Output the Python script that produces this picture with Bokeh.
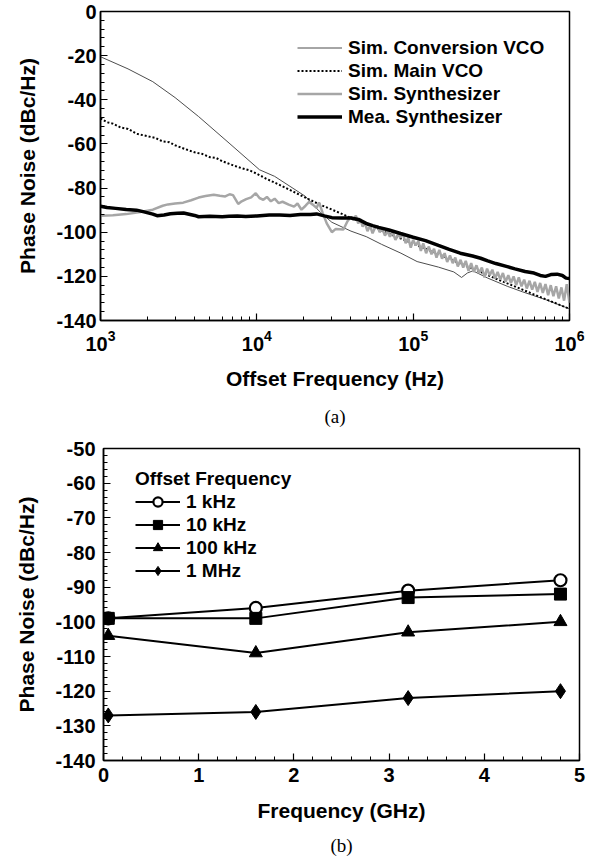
from bokeh.plotting import figure
from bokeh.models import FixedTicker, Title, Legend, LegendItem
from bokeh.embed import file_html
from bokeh.resources import INLINE

# ---------------- (a) data ----------------
conv_f = [1000, 1500, 2160, 3000, 4240, 6640, 10400, 13000, 20400, 25500, 30200, 40000,
          50100, 62800, 83500, 106000, 145000, 182000, 204000, 222000, 241000, 300000,
          400000, 500000, 700000, 1000000]
conv_db = [-20.5, -26.0, -31.8, -39.0, -47.6, -59.6, -71.7, -74.7, -83.7, -91.0, -95.5, -99.5,
           -102.0, -105.5, -109.5, -113.3, -115.8, -118.0, -120.5, -118.5, -117.5, -120.8,
           -124.5, -127.0, -130.5, -134.7]

main_f = [1000, 1100, 1200, 1350, 1500, 1700, 2000, 2250, 2500, 2750, 3000, 3500, 4000, 4500,
          5000, 5500, 6000, 7000, 8000, 9000, 10000, 11500, 13000, 16000, 20000, 25000, 32000,
          40000, 50000, 63000, 80000, 100000, 130000, 160000, 200000, 250000, 320000, 400000,
          500000, 630000, 800000, 1000000]
main_db = [-48.4, -50.2, -50.8, -52.6, -53.2, -55.4, -56.5, -57.3, -58.9, -59.2, -60.6, -62.4,
           -63.8, -64.6, -66.0, -66.4, -67.8, -69.6, -71.0, -72.0, -73.5, -75.8, -77.5, -80.6,
           -84.0, -87.3, -90.5, -93.5, -96.3, -99.3, -102.3, -105.2, -108.5, -111.2, -114.2,
           -117.0, -120.3, -123.2, -126.0, -129.0, -131.9, -134.7]

synth_f = [1000, 1200, 1460, 1800, 2160, 2500, 2700, 3000, 3380, 3800, 4240, 4700, 5300, 5800,
           6280, 6700, 7040, 7600, 8000, 8550, 9200, 9840, 10400, 11000, 11600, 12300, 13000,
           13800, 14600, 16000, 17300, 18200, 19300, 20500, 21600, 22800, 24100, 25000, 26300,
           28000, 30200, 32000, 35800, 38000,
           40000, 41500, 43000, 44500, 46000, 47500, 49000, 51000, 53000, 55000, 57000, 59000,
           61000, 63500, 66000, 68500, 71000, 74000, 77000, 80000, 83000, 86000, 89500, 93000,
           96500, 100000, 104000, 108000, 112000, 116000, 121000, 126000, 131000, 136000,
           141000, 147000, 153000, 159000, 165000, 172000, 179000, 186000, 193000, 201000,
           209000, 217000, 226000, 235000, 244000, 254000, 264000, 275000, 286000, 297000,
           309000, 321000, 334000, 347000, 361000, 375000, 390000, 406000, 422000, 439000,
           456000, 474000, 493000, 513000, 533000, 555000, 577000, 600000, 624000, 649000,
           675000, 702000, 730000, 759000, 789000, 821000, 854000, 888000, 923000, 960000,
           1000000]
synth_db = [-92.5, -92.3, -91.8, -90.8, -89.8, -88.0, -87.4, -87.0, -86.6, -85.5, -84.3, -83.6,
            -83.0, -83.5, -83.8, -82.8, -83.2, -87.2, -86.0, -85.0, -84.2, -82.3, -84.5, -85.3,
            -84.0, -86.0, -84.8, -86.8, -86.2, -87.5, -88.4, -87.0, -89.8, -88.0, -86.3, -87.5,
            -89.0, -86.5, -91.0, -96.0, -100.0, -98.5, -98.8, -95.0,
            -93.0, -94.5, -92.5, -96.0, -94.0, -97.5, -95.5, -99.5, -97.0, -100.5, -98.0, -97.0,
            -100.0, -98.5, -101.5, -99.5, -102.0, -100.0, -103.5, -101.0, -102.5, -100.5, -105.0,
            -102.5, -107.0, -103.5, -106.0, -104.0, -108.5, -105.0, -109.5, -106.5, -110.0,
            -107.5, -111.5, -108.0, -112.0, -109.5, -113.5, -110.5, -114.0, -111.5, -115.5,
            -112.5, -116.0, -113.0, -117.5, -114.0, -118.0, -115.0, -118.5, -116.0, -120.5,
            -116.5, -119.5, -117.0, -121.0, -118.0, -121.5, -118.5, -122.5, -119.5, -123.0,
            -120.0, -124.0, -120.5, -124.5, -121.5, -125.5, -122.0, -126.0, -122.5, -127.0,
            -123.0, -127.5, -123.5, -128.5, -124.0, -129.0, -124.5, -130.0, -125.0, -131.0,
            -123.5, -132.0]

meas_f = [1000, 1100, 1250, 1460, 1700, 1900, 2160, 2300, 2550, 2800, 3100, 3400, 4000, 4240,
          5000, 6000, 6640, 7500, 8500, 10000, 12000, 14000, 16300, 19000, 22000, 24100, 27000,
          30200, 35000, 40000, 44600, 50000, 55000, 60000, 70000, 83000, 100000, 120000,
          145000, 170000, 200000, 240000, 270000, 300000, 338000, 400000, 448000, 520000,
          593000, 650000, 702000, 760000, 833000, 900000, 950000, 1000000]
meas_db = [-88.2, -88.8, -89.2, -89.7, -90.0, -90.8, -91.8, -92.5, -92.2, -91.6, -91.4, -91.3,
           -92.4, -93.0, -92.8, -93.0, -92.8, -92.6, -92.9, -92.6, -92.2, -92.2, -92.4, -92.0,
           -92.0, -91.7, -92.6, -93.4, -93.6, -93.6, -94.2, -96.0, -97.0, -97.8, -99.0, -100.6,
           -102.3, -103.8, -106.0, -107.8, -109.5, -110.8, -111.8, -113.0, -114.2, -115.6,
           -116.6, -117.8, -118.5, -119.6, -120.0, -119.2, -119.0, -119.6, -120.8, -121.0]

a_legend = ["Sim. Conversion VCO", "Sim. Main VCO", "Sim. Synthesizer", "Mea. Synthesizer"]
a_xticks = [1e3, 1e4, 1e5, 1e6]
a_yticks = [-140, -120, -100, -80, -60, -40, -20, 0]

# ---------------- (b) data ----------------
b_freq = [0.05, 1.6, 3.2, 4.8]
b_1k = [-99, -96, -91, -88]
b_10k = [-99, -99, -93, -92]
b_100k = [-104, -109, -103, -100]
b_1M = [-127, -126, -122, -120]
b_labels = ["1 kHz", "10 kHz", "100 kHz", "1 MHz"]
b_yticks = [-140, -130, -120, -110, -100, -90, -80, -70, -60, -50]
b_xticks = [0, 1, 2, 3, 4, 5]

FONT = "Liberation Sans"


def style(p, label_standoff_y, label_standoff_x):
    p.outline_line_color = "black"
    p.outline_line_width = 1.5
    p.xgrid.visible = False
    p.ygrid.visible = False
    for ax in (p.xaxis[0], p.yaxis[0]):
        ax.axis_line_color = "black"
        ax.axis_line_width = 1.5
        ax.major_tick_line_color = "black"
        ax.minor_tick_line_color = "black"
        ax.major_tick_line_width = 1.2
        ax.minor_tick_line_width = 1
        ax.major_tick_in = 7
        ax.major_tick_out = 0
        ax.minor_tick_in = 4
        ax.minor_tick_out = 0
        ax.major_label_text_font = FONT
        ax.major_label_text_font_style = "bold"
        ax.major_label_text_font_size = "20px"
        ax.major_label_text_color = "black"
        ax.axis_label_text_font = FONT
        ax.axis_label_text_font_style = "bold"
        ax.axis_label_text_font_size = "21px"
        ax.axis_label_text_color = "black"
    p.yaxis[0].major_label_standoff = label_standoff_y
    p.xaxis[0].major_label_standoff = label_standoff_x
    p.background_fill_color = "white"
    p.border_fill_color = "white"


def make_legend(items, loc, row_h, title=None):
    kw = dict(items=items, location=loc, orientation="vertical")
    if title:
        kw["title"] = title
    leg = Legend(**kw)
    leg.title_text_font = FONT
    leg.title_text_font_style = "bold"
    leg.title_text_font_size = "19px"
    leg.title_text_color = "black"
    leg.title_standoff = 0
    leg.label_text_font = FONT
    leg.label_text_font_style = "bold"
    leg.label_text_font_size = "19px"
    leg.label_text_color = "black"
    leg.glyph_width = 45
    leg.glyph_height = row_h
    leg.label_height = row_h
    leg.label_standoff = 6
    leg.spacing = 0
    leg.padding = 0
    leg.margin = 0
    leg.border_line_color = None
    leg.background_fill_alpha = 0
    return leg


# ---------------- figure (a) ----------------
p1 = figure(width=590, height=438, x_axis_type="log", x_range=(1e3, 1e6), y_range=(-140, 0),
            output_backend="svg", toolbar_location=None, title=None,
            min_border_left=100, min_border_right=21, min_border_top=11, min_border_bottom=116)
style(p1, 4, 9)
p1.xaxis.ticker = FixedTicker(ticks=a_xticks,
                              minor_ticks=[m * 10 ** k for k in range(3, 6) for m in range(2, 10)])
p1.yaxis.ticker = FixedTicker(ticks=a_yticks, minor_ticks=list(range(-140, 1, 4)))
p1.yaxis.major_label_overrides = {v: str(v) for v in a_yticks}
p1.xaxis.axis_label = "Offset Frequency (Hz)"
p1.yaxis.axis_label = "Phase Noise (dBc/Hz)"
p1.xaxis.axis_label_standoff = 13
p1.yaxis.axis_label_standoff = 14

r1 = p1.line(conv_f, conv_db, line_color="#4d4d4d", line_width=1)
r2 = p1.line(main_f, main_db, line_color="black", line_width=2, line_dash="2 2")
r3 = p1.line(synth_f, synth_db, line_color="#a6a6a6", line_width=2.5)
r4 = p1.line(meas_f, meas_db, line_color="black", line_width=3.5)

leg1 = make_legend([LegendItem(label=a_legend[i], renderers=[r]) for i, r in enumerate([r1, r2, r3, r4])],
                   (197, 192), 23)
p1.add_layout(leg1)

p1.add_layout(Title(text="(a)", align="center", text_font="Liberation Serif",
                    text_font_style="normal", text_font_size="19px", text_color="black",
                    standoff=23), "below")

# ---------------- figure (b) ----------------
p2 = figure(width=590, height=425, x_range=(0, 5), y_range=(-140, -50),
            output_backend="svg", toolbar_location=None, title=None,
            min_border_left=103, min_border_right=11, min_border_top=10, min_border_bottom=101)
style(p2, 8, 7)
p2.xaxis.ticker = FixedTicker(ticks=b_xticks, minor_ticks=[i * 0.2 for i in range(26)])
p2.yaxis.ticker = FixedTicker(ticks=b_yticks, minor_ticks=list(range(-140, -49, 2)))
p2.yaxis.major_label_overrides = {v: str(v) for v in b_yticks}
p2.xaxis.axis_label = "Frequency (GHz)"
p2.yaxis.axis_label = "Phase Noise (dBc/Hz)"
p2.xaxis.axis_label_standoff = 14
p2.yaxis.axis_label_standoff = 14

items = []
series = [(b_1k, "circle", 12, "white"), (b_10k, "square", 12, "black"),
          (b_100k, "triangle", 13, "black"), (b_1M, "diamond", 15, "black")]
for (vals, marker, size, fill), lab in zip(series, b_labels):
    ln = p2.line(b_freq, vals, line_color="black", line_width=2)
    sc = p2.scatter(b_freq, vals, marker=marker, size=size, fill_color=fill,
                    line_color="black", line_width=2.2 if marker == "circle" else 1)
    items.append(LegendItem(label=lab, renderers=[ln, sc]))

leg2 = make_legend(items, (32, 178), 23, title="Offset Frequency")
p2.add_layout(leg2)

p2.add_layout(Title(text="(b)", align="center", text_font="Liberation Serif",
                    text_font_style="normal", text_font_size="19px", text_color="black",
                    standoff=16), "below")

open("out.html", "w").write(file_html([p1, p2], INLINE))
